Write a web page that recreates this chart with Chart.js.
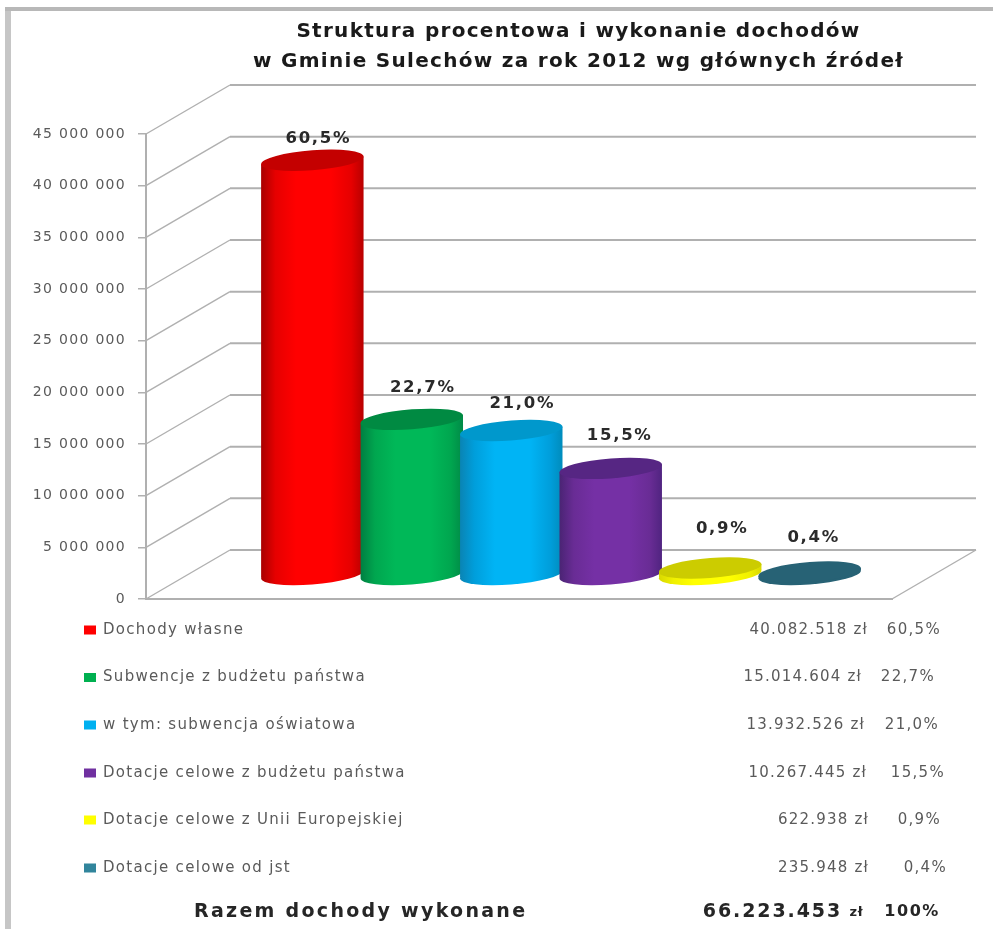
<!DOCTYPE html>
<html lang="pl">
<head>
<meta charset="utf-8">
<title>Struktura procentowa</title>
<script src="https://cdn.jsdelivr.net/npm/chart.js@4"></script>
<style>
html,body{margin:0;padding:0;background:#fff;overflow:hidden}
#wrap{position:relative;width:993px;height:929px}
canvas{display:block;filter:blur(0.6px)}
#frameL{position:absolute;left:5px;top:7px;width:6px;height:922px;background:#c6c6c6}
#frameT{position:absolute;left:5px;top:7px;width:988px;height:4px;background:#b8b8b8}
</style>
</head>
<body>
<div id="wrap"><canvas id="c" width="993" height="929"></canvas><div id="frameL"></div><div id="frameT"></div></div>
<script>
const titleLines = ['Struktura procentowa i wykonanie dochodów', 'w Gminie Sulechów za rok 2012 wg głównych źródeł'];
const categories = ['2012'];
const seriesNames = ['Dochody własne', 'Subwencje z budżetu państwa', 'w tym: subwencja oświatowa', 'Dotacje celowe z budżetu państwa', 'Dotacje celowe z Unii Europejskiej', 'Dotacje celowe od jst'];
const seriesValues = [40082518, 15014604, 13932526, 10267445, 622938, 235948];
const percentLabels = ['60,5%', '22,7%', '21,0%', '15,5%', '0,9%', '0,4%'];
const totalLabel = 'Razem dochody wykonane';
const totalValue = 66223453;
const totalPercent = '100%';
const yMax = 45000000;
const yStep = 5000000;

// styles
const bodyEdgeL = ['#a80000', '#007f42', '#0a84b4', '#4a2474', '#d8d800', '#276275'];
const bodyMid = ['#e60000', '#00a64f', '#009edb', '#692c95', '#f0f000', '#276275'];
const bodyMain = ['#ff0000', '#00b858', '#00b4f5', '#7530a5', '#ffff00', '#276275'];
const bodyEdgeR = ['#b80000', '#008a47', '#008cbc', '#502480', '#d8d800', '#276275'];
const capColor = ['#c40000', '#008a42', '#0098cc', '#562683', '#cccc00', '#276275'];
const swatch = ['#ff0000', '#00b050', '#00b0f0', '#7030a0', '#ffff00', '#31859c'];
const labelDx = [6, 11, 11, 9, 12, 4];
const labelDy = [22, 32, 27, 33, 39, 34];
const rowY = [630, 677.5, 725, 773, 820, 868];
const amountRight = [868, 862, 865, 867, 869, 869];
const percentRight = [941, 935, 939, 945, 941, 947];
const DX = 42, DY = 24.5, SKEW = -0.075, RY = 10;

const fmtTick = v => String(v).replace(/\B(?=(\d{3})+$)/g, ' ');
const fmtDots = v => String(v).replace(/\B(?=(\d{3})+$)/g, '.');
const fmtMoney = v => fmtDots(v) + ' zł';

function shear(ctx, cx) {
  ctx.translate(cx, 0);
  ctx.transform(1, SKEW, 0, 1, 0, 0);
  ctx.translate(-cx, 0);
}
function bodyGrad(ctx, el, i) {
  const l = el.x - el.width / 2, r = el.x + el.width / 2;
  const g = ctx.createLinearGradient(l, 0, r, 0);
  g.addColorStop(0, bodyEdgeL[i]);
  g.addColorStop(0.14, bodyMid[i]);
  g.addColorStop(0.34, bodyMain[i]);
  g.addColorStop(0.68, bodyMain[i]);
  g.addColorStop(0.88, bodyMid[i]);
  g.addColorStop(1, bodyEdgeR[i]);
  return g;
}
function txt(ctx, s, x, y, font, color, align, spacing) {
  ctx.save();
  ctx.font = font;
  ctx.fillStyle = color;
  ctx.textAlign = align;
  ctx.textBaseline = 'middle';
  ctx.letterSpacing = spacing + 'px';
  ctx.fillText(s, x, y);
  ctx.restore();
}

const wall3d = {
  id: 'wall3d',
  beforeDraw(chart) { chart.ctx.letterSpacing = '1.3px'; },
  afterLayout(chart) {
    chart.titleBlock.left = 164;
    chart.titleBlock.right = 993;
  },
  beforeDatasetsDraw(chart) {
    const { ctx, scales: { x, y } } = chart;
    const l = x.left, r = x.right;
    ctx.save();
    ctx.strokeStyle = '#b0b0b0';
    y.ticks.forEach(t => {
      const p = y.getPixelForValue(t.value);
      ctx.lineWidth = 1.4;
      ctx.beginPath();
      ctx.moveTo(l, p);
      ctx.lineTo(l + 2 * DX, p - 2 * DY);
      ctx.stroke();
      ctx.lineWidth = 2;
      ctx.beginPath();
      ctx.moveTo(l + 2 * DX, p - 2 * DY);
      ctx.lineTo(r + 2 * DX, p - 2 * DY);
      ctx.stroke();
    });
    const b = y.getPixelForValue(0);
    ctx.lineWidth = 1.4;
    ctx.beginPath();
    ctx.moveTo(r, b);
    ctx.lineTo(r + 2 * DX, b - 2 * DY);
    ctx.stroke();
    ctx.restore();
  },
  beforeDatasetDraw() { return false; },
  afterDatasetsDraw(chart) {
    const { ctx, scales: { y } } = chart;
    chart.data.datasets.forEach((ds, i) => {
      const meta = chart.getDatasetMeta(i);
      const el = meta.data[0];
      const rx = el.width / 2;
      const base = y.getPixelForValue(0);
      const grad = bodyGrad(ctx, el, i);
      el.options = Object.assign({}, el.options, { backgroundColor: grad });
      ctx.save();
      ctx.translate(DX, -DY);
      shear(ctx, el.x);
      ctx.fillStyle = grad;
      ctx.beginPath();
      ctx.ellipse(el.x, base, rx, RY, 0, 0, Math.PI * 2);
      ctx.fill();
      meta.controller.draw();
      ctx.fillStyle = capColor[i];
      ctx.beginPath();
      ctx.ellipse(el.x, el.y, rx, RY, 0, 0, Math.PI * 2);
      ctx.fill();
      ctx.restore();
    });
    chart.data.datasets.forEach((ds, i) => {
      const el = chart.getDatasetMeta(i).data[0];
      txt(ctx, percentLabels[i], el.x + DX + labelDx[i], el.y - DY - labelDy[i],
        'bold 16.5px "DejaVu Sans"', '#2a2a2a', 'center', 1.7);
    });
  },
  afterDraw(chart) {
    const { ctx } = chart;
    const f = '15px "DejaVu Sans"', c = '#5a5a5a', d = '#262626';
    seriesNames.forEach((n, i) => {
      ctx.save();
      ctx.fillStyle = swatch[i];
      ctx.fillRect(84, rowY[i] - 4.5, 12, 9);
      ctx.restore();
      txt(ctx, n, 103, rowY[i], f, c, 'left', 1.3);
      txt(ctx, fmtMoney(seriesValues[i]), amountRight[i], rowY[i], f, c, 'right', 1.2);
      txt(ctx, percentLabels[i], percentRight[i], rowY[i], f, c, 'right', 1.3);
    });
    txt(ctx, totalLabel, 194, 912, 'bold 19px "DejaVu Sans"', d, 'left', 2.3);
    txt(ctx, fmtDots(totalValue), 842, 912, 'bold 19px "DejaVu Sans"', d, 'right', 1.9);
    txt(ctx, 'zł', 863, 913, 'bold 13px "DejaVu Sans"', d, 'right', 0.5);
    txt(ctx, totalPercent, 940, 912, 'bold 16px "DejaVu Sans"', d, 'right', 1.6);
  }
};

new Chart(document.getElementById('c'), {
  type: 'bar',
  data: {
    labels: categories,
    datasets: seriesNames.map((n, i) => ({
      label: n,
      data: [seriesValues[i]],
      backgroundColor: swatch[i],
      borderWidth: 0,
      categoryPercentage: 0.8,
      barPercentage: 1.03
    }))
  },
  options: {
    responsive: false,
    animation: false,
    layout: { padding: { left: 0, right: 101, top: 0, bottom: 330 } },
    plugins: {
      legend: { display: false },
      tooltip: { enabled: false },
      title: {
        display: true,
        text: titleLines,
        color: '#1a1a1a',
        font: { family: '"DejaVu Sans"', size: 20, weight: 'bold', lineHeight: 1.5 },
        padding: { top: 17, bottom: 57 }
      }
    },
    scales: {
      x: {
        afterFit(s) { s.height = 0; },
        grid: { display: false, drawTicks: false },
        border: { color: '#b0b0b0', width: 2 },
        ticks: { display: false }
      },
      y: {
        min: 0,
        max: yMax,
        afterFit(s) { s.width = 146; },
        grid: { drawOnChartArea: false, color: '#b0b0b0', lineWidth: 1.5, tickLength: 8 },
        border: { color: '#b0b0b0', width: 2 },
        ticks: {
          stepSize: yStep,
          padding: 12,
          color: '#5a5a5a',
          font: { family: '"DejaVu Sans"', size: 14 },
          callback: v => fmtTick(v)
        }
      }
    }
  },
  plugins: [wall3d]
});
</script>
</body>
</html>
